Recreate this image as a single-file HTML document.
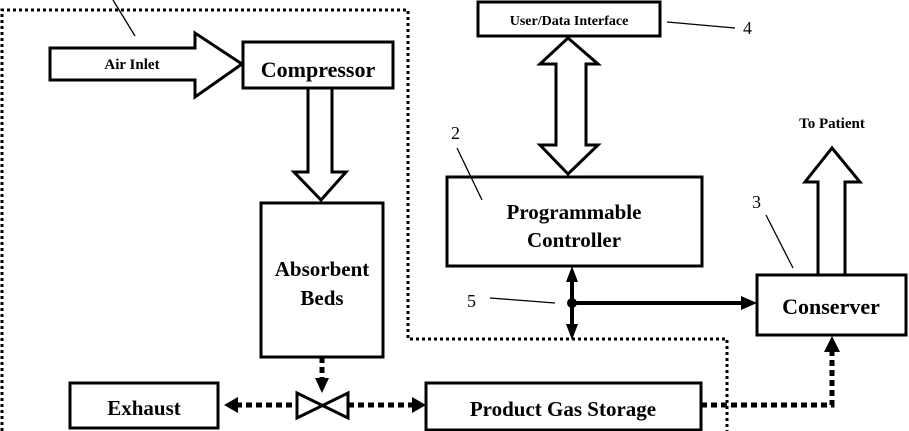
<!DOCTYPE html>
<html><head><style>body{margin:0;background:#fff}svg{display:block}</style></head><body>
<svg width="909" height="431" viewBox="0 0 909 431" xmlns="http://www.w3.org/2000/svg" font-family="'Liberation Serif',serif" font-weight="bold">
<g fill="none" stroke="#000" stroke-width="3" stroke-dasharray="3,3">
<path d="M2,431 V10 H408 V339 H727 V431"/>
</g>
<g fill="#fff" stroke="#000" stroke-width="3">
<path d="M50,48 H195 V33 L242,64 L195,97 V80 H50 Z"/>
<rect x="243" y="42" width="150" height="46"/>
<path d="M308,88 H332 V172 H346 L321,200 L294,172 H308 Z"/>
<rect x="261" y="203" width="122" height="154"/>
<rect x="478" y="2" width="182" height="34"/>
<path d="M568,38 L598,64 H586 V145 H598 L568,174 L540,145 H556 V64 H540 Z"/>
<rect x="447" y="177" width="255" height="89"/>
<path d="M832,148 L860,182 H845 V275 H818 V182 H805 Z"/>
<rect x="757" y="275" width="149" height="60"/>
<rect x="70" y="383" width="148" height="45"/>
<rect x="426" y="383" width="275" height="47"/>
<path d="M297,393 L348,418 V393 L297,418 Z"/>
</g>
<g stroke="#000" stroke-width="5" stroke-dasharray="6,4" fill="none">
<path d="M322,357 V378"/>
<path d="M236,405 H297"/>
<path d="M348,405 H412"/>
<path d="M701,405 H832 V352"/>
</g>
<g fill="#000">
<path d="M315,378 H329 L322,393 Z"/>
<path d="M224,405 L238,397 V413 Z"/>
<path d="M426,405 L412,397 V413 Z"/>
<path d="M832,336 L824,352 H840 Z"/>
<path d="M572,266 L566,282 H578 Z"/>
<path d="M572,340 L566,324 H578 Z"/>
<path d="M757,303 L741,296 V310 Z"/>
<circle cx="572" cy="303" r="5"/>
</g>
<g stroke="#000" fill="none">
<path d="M572,280 V326" stroke-width="4"/>
<path d="M572,303 H743" stroke-width="4"/>
<path d="M113,0 L135,36 M457,148 L482,200 M766,215 L793,268 M667,22 L735,28 M490,298 L555,303" stroke-width="1.3"/>
</g>
<g text-anchor="middle" fill="#000">
<text x="132" y="69" font-size="15">Air Inlet</text>
<text x="318" y="77" font-size="22">Compressor</text>
<text x="322" y="276" font-size="21">Absorbent</text>
<text x="322" y="305" font-size="21">Beds</text>
<text x="569" y="25" font-size="14">User/Data Interface</text>
<text x="574" y="219" font-size="21">Programmable</text>
<text x="574" y="247" font-size="21">Controller</text>
<text x="832" y="128" font-size="15">To Patient</text>
<text x="831" y="314" font-size="22">Conserver</text>
<text x="144" y="415" font-size="21">Exhaust</text>
<text x="563" y="416" font-size="21">Product Gas Storage</text>
</g>
<g fill="#000" font-weight="normal" font-size="18">
<text x="451" y="139">2</text>
<text x="752" y="208">3</text>
<text x="743" y="34">4</text>
<text x="467" y="307">5</text>
</g>
</svg>
</body></html>
